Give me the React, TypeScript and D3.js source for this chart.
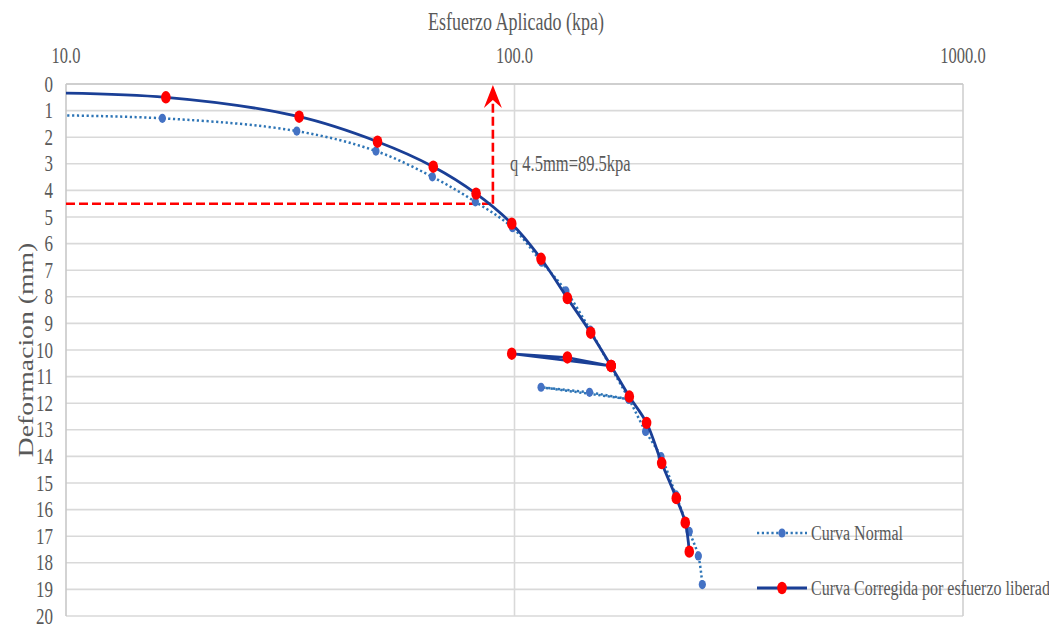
import React from 'react';
import * as d3 from 'd3';

// Curva Normal (loading branch), kPa / mm
const normalStress = [6, 16.4, 32.7, 49.1, 65.6, 81.8, 99, 115, 130.2, 147.5, 164, 180, 196, 212.2, 229, 245.3, 257, 262.3];
const normalDef = [1.14, 1.29, 1.77, 2.52, 3.49, 4.43, 5.4, 6.7, 7.78, 9.25, 10.65, 11.85, 13.06, 14.01, 15.45, 16.82, 17.74, 18.82];
const normalMarked = [false, true, true, true, true, true, true, true, true, true, true, true, true, true, true, true, true, true];
// Curva Normal, descarga / recarga
const normalLoopStress = [180, 114.6, 147, 180];
const normalLoopDef = [11.85, 11.4, 11.59, 11.85];

// Curva Corregida por esfuerzo liberado
const corrStress = [6, 16.7, 33.1, 49.5, 65.9, 82.1, 98.6, 114.6, 131.2, 147.9, 164.2, 180.3, 197, 212.9, 229.5, 240.3, 245.3];
const corrDef = [0.3, 0.5, 1.23, 2.17, 3.11, 4.12, 5.25, 6.57, 8.05, 9.35, 10.6, 11.75, 12.74, 14.25, 15.57, 16.49, 17.58];
const corrMarked = [false, true, true, true, true, true, true, true, true, true, true, true, true, true, true, true, true];
const corrLoopStress = [164.2, 98.6, 131.2, 164.2];
const corrLoopDef = [10.6, 10.14, 10.28, 10.6];

const xTicks = [10, 100, 1000];
const yTicks = d3.range(0, 21);
const qStress = 89.5;
const qDef = 4.5;

const W = 1049;
const H = 628;
const FONT = '"Liberation Serif", "Times New Roman", serif';
const TXT = '#595959';
const SY = 1.35;

const x = d3.scaleLog().domain([10, 1000]).range([66, 963]);
const y = d3.scaleLinear().domain([0, 20]).range([84, 616]);

type P = [number, number];
const zip = (a: number[], b: number[]): P[] => a.map((v, i) => [v, b[i]]);

const smooth = d3
  .line<P>()
  .x((d) => x(d[0]))
  .y((d) => y(d[1]))
  .curve(d3.curveCatmullRom.alpha(0.5));
const straight = d3
  .line<P>()
  .x((d) => x(d[0]))
  .y((d) => y(d[1]));

function T({ x: tx, y: ty, size, anchor = 'start', children, rotate = false, fill = TXT }: any) {
  const tr = rotate
    ? `translate(${tx},${ty}) rotate(-90) scale(${SY},1)`
    : `translate(${tx},${ty}) scale(1,${SY})`;
  return (
    <text transform={tr} fontFamily={FONT} fontSize={size} textAnchor={anchor} fill={fill}>
      {children}
    </text>
  );
}

export default function App() {
  const normal = zip(normalStress, normalDef);
  const normalLoop = zip(normalLoopStress, normalLoopDef);
  const corr = zip(corrStress, corrDef);
  const corrLoop = zip(corrLoopStress, corrLoopDef);
  const [x0, x1] = x.range();
  const [y0, y1] = y.range();
  const qx = x(qStress);
  const qy = y(qDef);
  const tipY = y(0) + 1;

  const blue = '#2E75B6';
  const blueMk = '#4472C4';
  const navy = '#1A3F96';
  const red = '#FF0000';

  return (
    <svg width={W} height={H} style={{ position: 'absolute', left: 0, top: 0, background: '#fff' }}>
      <defs>
        <clipPath id="plot">
          <rect x={x0} y={y0 - 2} width={x1 - x0} height={y1 - y0 + 4} />
        </clipPath>
      </defs>

      {/* grid */}
      {yTicks.map((t) => (
        <line key={t} x1={x0} x2={x1} y1={y(t)} y2={y(t)} stroke="#d9d9d9" strokeWidth={1.6} />
      ))}
      <line x1={x(100)} x2={x(100)} y1={y0} y2={y1} stroke="#d9d9d9" strokeWidth={1.6} />
      <line x1={x0} x2={x0} y1={y0} y2={y1} stroke="#c8c8c8" strokeWidth={1.6} />
      <line x1={x1} x2={x1} y1={y0} y2={y1} stroke="#d0d0d0" strokeWidth={1.6} />
      <line x1={x0} x2={x1} y1={y0} y2={y0} stroke="#c8c8c8" strokeWidth={1.6} />

      {/* axis labels */}
      {xTicks.map((t) => (
        <T key={t} x={x(t)} y={63} size={16.5} anchor="middle">
          {t.toFixed(1)}
        </T>
      ))}
      {yTicks.map((t) => (
        <T key={t} x={53} y={y(t) + 7.5} size={17} anchor="end">
          {t}
        </T>
      ))}
      <T x={516} y={30} size={18} anchor="middle">
        Esfuerzo Aplicado (kpa)
      </T>
      <T x={33} y={350} size={20.5} anchor="middle" rotate>
        Deformacion (mm)
      </T>

      {/* q line */}
      <line x1={x0} x2={qx} y1={qy} y2={qy} stroke={red} strokeWidth={2.6} strokeDasharray="9 4" />
      <line x1={qx} x2={qx} y1={qy} y2={tipY + 14} stroke={red} strokeWidth={2.6} strokeDasharray="9 4" />
      <path
        d={`M${qx},${tipY} L${qx + 9},${tipY + 23} L${qx},${tipY + 15} L${qx - 9},${tipY + 23} Z`}
        fill={red}
      />
      <T x={510} y={171} size={16.5}>
        q 4.5mm=89.5kpa
      </T>

      <g clipPath="url(#plot)">
        {/* Curva Normal */}
        <path d={smooth(normal) || ''} fill="none" stroke={blue} strokeWidth={2.5} strokeDasharray="2.2 2.6" />
        <path d={straight(normalLoop) || ''} fill="none" stroke={blue} strokeWidth={2.5} strokeDasharray="2.2 2.6" />
        {normal.map((d, i) =>
          normalMarked[i] ? <ellipse key={'n' + i} cx={x(d[0])} cy={y(d[1])} rx={3.6} ry={4.6} fill={blueMk} /> : null
        )}
        {normalLoop.map((d, i) => (
          <ellipse key={'nl' + i} cx={x(d[0])} cy={y(d[1])} rx={3.6} ry={4.6} fill={blueMk} />
        ))}

        {/* Curva Corregida */}
        <path d={smooth(corr) || ''} fill="none" stroke={navy} strokeWidth={2.8} />
        <path d={straight(corrLoop) || ''} fill="none" stroke={navy} strokeWidth={2.6} strokeLinejoin="round" />
        {corr.map((d, i) =>
          corrMarked[i] ? <ellipse key={'c' + i} cx={x(d[0])} cy={y(d[1])} rx={4.8} ry={6.2} fill={red} /> : null
        )}
        {corrLoop.map((d, i) => (
          <ellipse key={'cl' + i} cx={x(d[0])} cy={y(d[1])} rx={4.8} ry={6.2} fill={red} />
        ))}
      </g>

      {/* legend */}
      <line x1={757} x2={807} y1={533} y2={533} stroke={blue} strokeWidth={2.5} strokeDasharray="2.2 2.6" />
      <ellipse cx={782} cy={533} rx={3.6} ry={4.6} fill={blueMk} />
      <T x={811} y={540} size={16}>
        Curva Normal
      </T>
      <line x1={757} x2={807} y1={588} y2={588} stroke={navy} strokeWidth={2.8} />
      <ellipse cx={782} cy={588} rx={4.8} ry={6.2} fill={red} />
      <T x={811} y={595} size={16}>
        Curva Corregida por esfuerzo liberado
      </T>
    </svg>
  );
}
